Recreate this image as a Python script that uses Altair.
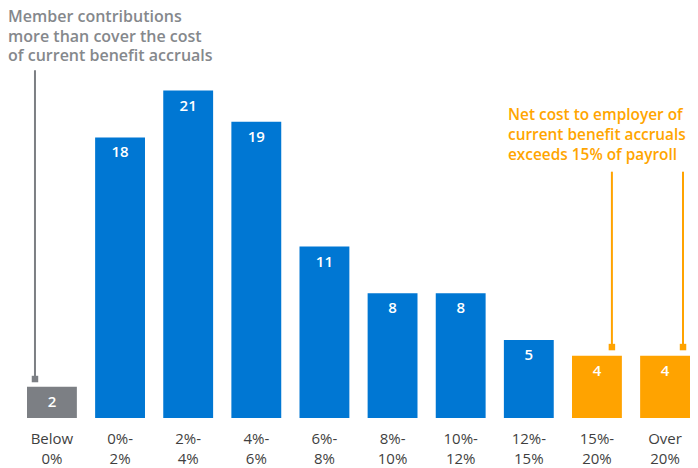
import altair as alt
import pandas as pd

# ---- data ----
line1 = ["Below", "0%-", "2%-", "4%-", "6%-", "8%-", "10%-", "12%-", "15%-", "Over"]
line2 = ["0%", "2%", "4%", "6%", "8%", "10%", "12%", "15%", "20%", "20%"]
values = [2, 18, 21, 19, 11, 8, 8, 5, 4, 4]
groups = ["low", "mid", "mid", "mid", "mid", "mid", "mid", "mid", "high", "high"]

categories = [a + "\n" + b for a, b in zip(line1, line2)]

# annotation connectors (category, position within bar, top, bottom in data units)
conn_cat = [categories[0], categories[8], categories[9]]
conn_band = [0.16, 0.8, 0.86]
conn_top = [22.3, 15.8, 15.8]
conn_bot = [2.5, 4.55, 4.55]
conn_group = ["low", "high", "high"]

note_low = ["Member contributions", "more than cover the cost", "of current benefit accruals"]
note_high = ["Net cost to employer of", "current benefit accruals", "exceeds 15% of payroll"]

GREY = "#7c7f84"
BLUE = "#0077d3"
ORANGE = "#ffa300"
GREY_TXT = "#85888c"
ORANGE_TXT = "#ffa500"
FONT = "Open Sans"

df = pd.DataFrame({"cat": categories, "value": values, "group": groups})
color_scale = alt.Scale(domain=["low", "mid", "high"], range=[GREY, BLUE, ORANGE])

x = alt.X("cat:N", sort=categories,
          scale=alt.Scale(paddingInner=0.268, paddingOuter=0),
          axis=alt.Axis(title=None, labelAngle=0, ticks=False, domain=False,
                        labelFontSize=15, labelFont=FONT, labelColor="#3f3f3f",
                        labelBaseline="top", labelPadding=13, labelLineHeight=20,
                        labelExpr="split(datum.label, '\\n')"))
y = alt.Y("value:Q", scale=alt.Scale(domain=[0, 26.3], nice=False), axis=None)

base = alt.Chart(df)
bars = base.mark_bar().encode(
    x=x, y=y,
    color=alt.Color("group:N", scale=color_scale, legend=None))
labels = base.mark_text(color="white", fontSize=15, font=FONT, fontWeight=600,
                        baseline="middle", dy=15).encode(
    x=alt.X("cat:N", sort=categories), y=y, text="value:Q")

cdf = pd.DataFrame({"cat": conn_cat, "top": conn_top, "bot": conn_bot,
                    "group": conn_group, "band": conn_band})
rules = []
squares = []
for i in range(len(conn_cat)):
    sub = alt.Chart(cdf.iloc[[i]])
    xx = alt.X("cat:N", sort=categories, bandPosition=conn_band[i])
    rules.append(sub.mark_rule(strokeWidth=2).encode(
        x=xx, y="top:Q", y2="bot:Q",
        color=alt.Color("group:N", scale=color_scale, legend=None)))
    squares.append(sub.mark_square(size=42, opacity=1).encode(
        x=xx, y="bot:Q",
        color=alt.Color("group:N", scale=color_scale, legend=None)))

tdf = pd.DataFrame({"cat": [categories[0], categories[8]],
                    "y": [25.72, 19.43],
                    "txt": ["\n".join(note_low), "\n".join(note_high)]})
note1 = alt.Chart(tdf.iloc[[0]]).mark_text(
    align="left", baseline="middle", fontSize=16, font=FONT, fontWeight=600,
    lineHeight=19.5, color=GREY_TXT, lineBreak="\n", dx=-19).encode(
    x=alt.X("cat:N", sort=categories, bandPosition=0), y="y:Q", text="txt:N")
note2 = alt.Chart(tdf.iloc[[1]]).mark_text(
    align="left", baseline="middle", fontSize=15.4, font=FONT, fontWeight=600,
    lineHeight=20, color=ORANGE_TXT, lineBreak="\n", dx=-64).encode(
    x=alt.X("cat:N", sort=categories, bandPosition=0), y="y:Q", text="txt:N")

chart = alt.layer(bars, labels, *rules, *squares, note1, note2).properties(
    width=663, height=410,
    background="white",
    autosize=alt.AutoSizeParams(type="none"),
    padding={"left": 19, "top": 0, "right": 0, "bottom": 48},
).configure_view(stroke=None)

chart.save("out.html", embed_options={"renderer": "svg", "actions": False})
